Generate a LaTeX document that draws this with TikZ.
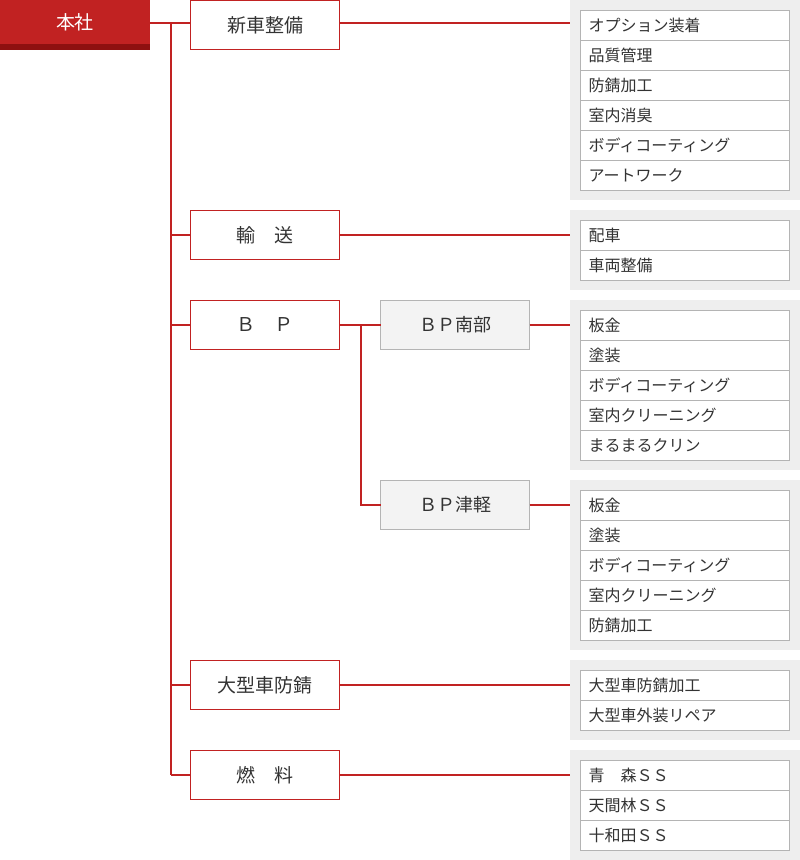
\documentclass[tikz,border=0pt]{standalone}
\usepackage{fontspec}
\setmainfont{Noto Sans CJK JP}
\usetikzlibrary{positioning}
\definecolor{brandred}{HTML}{C12222}
\definecolor{branddark}{HTML}{8E1010}
\definecolor{panelgrey}{HTML}{EEEEEE}
\definecolor{subfill}{HTML}{F3F3F3}
\definecolor{edgegrey}{HTML}{B4B4B4}
\definecolor{inktext}{HTML}{333333}

\begin{document}
\begin{tikzpicture}[x=1pt, y=-1pt,
    % one pixel of the chart is one point here
    every node/.style={inner sep=0pt, outer sep=0pt, text=inktext},
    honsha/.style={fill=brandred, minimum width=150pt, minimum height=44pt,
        anchor=north west, text=white, font=\fontsize{19}{19}\selectfont},
    dept/.style={draw=brandred, fill=white, line width=1pt, minimum width=149pt,
        minimum height=49pt, anchor=north west, font=\fontsize{19}{19}\selectfont},
    subdept/.style={dept, draw=edgegrey, fill=subfill, font=\fontsize{18}{18}\selectfont},
    panel/.style={fill=panelgrey, minimum width=230pt, anchor=north west},
    item/.style={draw=edgegrey, fill=white, line width=1pt, text width=193pt,
        inner xsep=8pt, minimum height=30pt, align=left, anchor=north west,
        font=\fontsize{16}{16}\selectfont},
    link/.style={draw=brandred, line width=2pt}]
    \useasboundingbox (0,0) rectangle (800,860);

    % the head office, with its dark strip under it
    \fill[branddark] (0,44) rectangle (150,50);
    \node[honsha] (hq) at (0,0) {本社};

    % departments, the half pixel puts the 1pt border on the grid
    \node[dept] (shinsha) at (190.5,0.5) {新車整備};
    \node[dept] (yuso) at (190.5,210.5) {輸　送};
    \node[dept] (bp) at (190.5,300.5) {Ｂ　Ｐ};
    \node[dept] (ogata) at (190.5,660.5) {大型車防錆};
    \node[dept] (nenryo) at (190.5,750.5) {燃　料};
    \node[subdept] (nanbu) at (380.5,300.5) {ＢＰ南部};
    \node[subdept] (tsugaru) at (380.5,480.5) {ＢＰ津軽};

    % grey panels behind the lists
    \node[panel, minimum height=200pt] (p1) at (570,0) {};
    \node[panel, minimum height=80pt] (p2) at (570,210) {};
    \node[panel, minimum height=170pt] (p3) at (570,300) {};
    \node[panel, minimum height=170pt] (p4) at (570,480) {};
    \node[panel, minimum height=80pt] (p5) at (570,660) {};
    \node[panel, minimum height=110pt] (p6) at (570,750) {};

    % the lists, one row every 30 points
    \foreach \t [count=\i from 0] in {オプション装着, 品質管理, 防錆加工, 室内消臭,
        ボディコーティング, アートワーク}
        \node[item] (a\i) at (580.5,{10.5+30*\i}) {\t};
    \foreach \t [count=\i from 0] in {配車, 車両整備}
        \node[item] (b\i) at (580.5,{220.5+30*\i}) {\t};
    \foreach \t [count=\i from 0] in {板金, 塗装, ボディコーティング, 室内クリーニング,
        まるまるクリン}
        \node[item] (c\i) at (580.5,{310.5+30*\i}) {\t};
    \foreach \t [count=\i from 0] in {板金, 塗装, ボディコーティング, 室内クリーニング,
        防錆加工}
        \node[item] (d\i) at (580.5,{490.5+30*\i}) {\t};
    \foreach \t [count=\i from 0] in {大型車防錆加工, 大型車外装リペア}
        \node[item] (e\i) at (580.5,{670.5+30*\i}) {\t};
    \foreach \t [count=\i from 0] in {青　森ＳＳ, 天間林ＳＳ, 十和田ＳＳ}
        \node[item] (f\i) at (580.5,{760.5+30*\i}) {\t};

    % trunk down the left side
    \coordinate (trunk) at (171,23);
    \coordinate (bptrunk) at (361,324);
    \draw[link] (hq.east |- trunk) -- (shinsha.west |- trunk);
    \draw[link] (trunk) -- (trunk |- nenryo.west);
    \foreach \d in {yuso, bp, ogata, nenryo}
        \draw[link] (trunk |- \d.west) -- (\d.west);

    % departments out to their panels
    \draw[link] (shinsha.east |- trunk) -- (p1.west |- trunk);
    \draw[link] (yuso.east) -- (yuso.east -| p2.west);
    \draw[link] (ogata.east) -- (ogata.east -| p5.west);
    \draw[link] (nenryo.east) -- (nenryo.east -| p6.west);

    % the BP branch
    \draw[link] (bp.east) -- (nanbu.west);
    \draw[link] (bptrunk) |- (tsugaru.west);
    \draw[link] (nanbu.east) -- (nanbu.east -| p3.west);
    \draw[link] (tsugaru.east) -- (tsugaru.east -| p4.west);
\end{tikzpicture}
\end{document}
